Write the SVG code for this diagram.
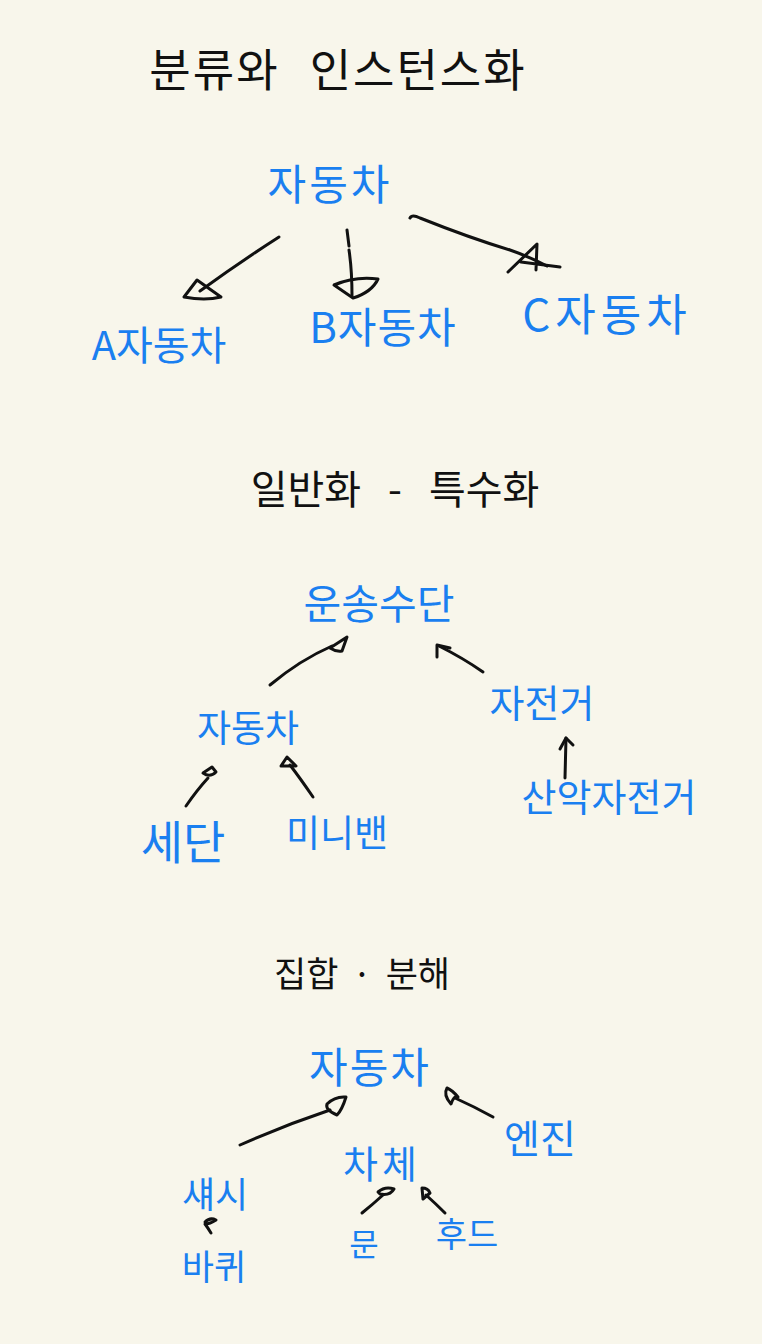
<svg xmlns="http://www.w3.org/2000/svg" width="762" height="1344" viewBox="0 0 762 1344">
<style>
.h{font-family:"Noto Sans CJK KR","Noto Sans",sans-serif;fill:#111;text-anchor:middle}
.t{font-family:"Noto Sans CJK KR","Noto Sans",sans-serif;fill:#1a7ff0;text-anchor:middle}
.c path{fill:none;stroke:#111;stroke-width:3;stroke-linecap:round;stroke-linejoin:round}
</style>
<rect width="762" height="1344" fill="#f8f6eb"/>
<g id="title1"><text class="h" x="338" y="87" font-size="45" letter-spacing="2" word-spacing="18">분류와 인스턴스화</text></g>
<g id="car1"><text class="t" x="330" y="200" font-size="42" letter-spacing="3">자동차</text></g>
<g id="carA"><text class="t" x="159" y="360" font-size="40">A자동차</text></g>
<g id="carB"><text class="t" x="383" y="343" font-size="42" letter-spacing="1">B자동차</text></g>
<g id="carC"><text class="t" x="607" y="331" font-size="44" letter-spacing="5">C자동차</text></g>
<g id="title2"><text class="h" x="395" y="504" font-size="40" word-spacing="18">일반화 - 특수화</text></g>
<g id="transport"><text class="t" x="379" y="619" font-size="41">운송수단</text></g>
<g id="car2"><text class="t" x="248" y="742" font-size="37">자동차</text></g>
<g id="bike"><text class="t" x="542" y="717" font-size="38">자전거</text></g>
<g id="sedan"><text class="t" x="183" y="859" font-size="46">세단</text></g>
<g id="minivan"><text class="t" x="337" y="847" font-size="37">미니밴</text></g>
<g id="mtb"><text class="t" x="609" y="811" font-size="38">산악자전거</text></g>
<g id="title3"><text class="h" x="362" y="987" font-size="35" word-spacing="6">집합 · 분해</text></g>
<g id="car3"><text class="t" x="370" y="1083" font-size="42" letter-spacing="2">자동차</text></g>
<g id="chassis"><text class="t" x="215" y="1208" font-size="36">섀시</text></g>
<g id="body"><text class="t" x="382" y="1178" font-size="38" letter-spacing="4">차체</text></g>
<g id="engine"><text class="t" x="540" y="1153" font-size="39">엔진</text></g>
<g id="wheel"><text class="t" x="214" y="1280" font-size="35">바퀴</text></g>
<g id="door"><text class="t" x="364" y="1256" font-size="32">문</text></g>
<g id="hood"><text class="t" x="467" y="1247" font-size="34">후드</text></g>
<g id="connectors" class="c">
<path d="M279 237 Q240 262 200 291"/>
<path d="M184 297 L197 280 L221 297 Q205 301 184 297 Z"/>
<path d="M347 230 L349 246 M349 250 Q352 270 352 296"/>
<path d="M334 285 Q355 276 378 279 Q372 292 353 298 Z"/>
<path d="M410 218 Q412 214 420 218 Q470 238 510 250 Q530 257 547 266"/>
<path d="M508 272 L537 244 L536 270 M521 262 L560 267"/>
<path d="M270 685 Q300 660 332 646"/>
<path d="M330 648 L347 637 L342 651 Q336 652 330 648 Z"/>
<path d="M483 672 Q463 658 439 646"/>
<path d="M437 645 L437 657 M437 645 L450 648"/>
<path d="M186 806 Q197 790 208 778"/>
<path d="M203 773 L212 767 L216 772 Q210 778 203 773 Z"/>
<path d="M313 797 Q300 778 290 765"/>
<path d="M281 766 L287 757 L296 766 Z"/>
<path d="M565 778 L566 738"/>
<path d="M560 749 L566 738 L573 745"/>
<path d="M240 1145 Q285 1125 330 1110"/>
<path d="M327 1104 Q335 1096 346 1097 Q342 1110 337 1115 Q325 1110 327 1104 Z"/>
<path d="M493 1117 Q475 1107 455 1098"/>
<path d="M447 1088 Q443 1095 451 1104 Q454 1095 458 1097 Q452 1090 447 1088 Z"/>
<path d="M362 1213 Q372 1205 383 1195"/>
<path d="M378 1192 Q385 1186 394 1189 Q390 1196 380 1194 Z"/>
<path d="M445 1213 Q435 1203 426 1195"/>
<path d="M423 1199 L422 1188 Q428 1188 430 1193 Z"/>
<path d="M205 1222 Q210 1217 216 1220 Q210 1224 205 1224 Q208 1228 211 1233"/>
</g>
</svg>
